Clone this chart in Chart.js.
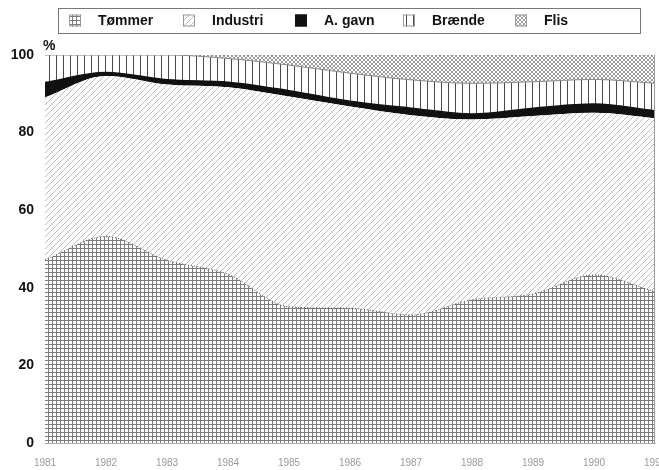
<!DOCTYPE html>
<html lang="da">
<head>
<meta charset="utf-8">
<title>Træforbrug 1981-1991</title>
<script src="https://cdn.jsdelivr.net/npm/chart.js@4.4.1/dist/chart.umd.min.js"></script>
<style>
  html, body { margin: 0; padding: 0; background: #fff; overflow: hidden; }
  #wrap { width: 659px; height: 470px; }
</style>
</head>
<body>
<div id="wrap"><canvas id="chart" width="659" height="470"></canvas></div>
<script>
(() => {
  "use strict";

  // Data (percent of total)
  const years = ["1981", "1982", "1983", "1984", "1985", "1986", "1987", "1988", "1989", "1990", "1991"];
  const tommer   = [47.2, 53.2, 47.1, 43.5, 35.1, 34.7, 33.0, 36.9, 38.4, 43.3, 39.0];
  const industri = [41.9, 41.4, 45.3, 48.2, 54.2, 52.0, 51.5, 46.5, 45.9, 41.8, 44.7];
  const agavn    = [3.8, 0.9, 1.2, 1.3, 1.5, 1.4, 1.8, 1.4, 2.0, 2.3, 1.9];
  const braende  = [7.1, 4.5, 6.4, 6.1, 6.6, 7.2, 7.3, 7.9, 6.8, 6.3, 7.1];
  const flis     = [0, 0, 0, 0.9, 2.6, 4.7, 6.4, 7.3, 6.9, 6.3, 7.3];
  const seriesNames = ["Tømmer", "Industri", "A. gavn", "Brænde", "Flis"];
  const yTicks = [0, 20, 40, 60, 80, 100];

  const FONT = '"Liberation Sans", Arial, Helvetica, sans-serif';
  const canvas = document.getElementById("chart");
  const ctx = canvas.getContext("2d");

  // Hatch fills, drawn into small tiles
  function pattern(w, h, draw) {
    const c = document.createElement("canvas");
    c.width = w; c.height = h;
    const g = c.getContext("2d");
    g.fillStyle = "#fff";
    g.fillRect(0, 0, w, h);
    draw(g);
    return ctx.createPattern(c, "repeat");
  }

  const fills = [
    pattern(4, 4, g => {            // grid
      g.fillStyle = "#7c7c7c";
      g.fillRect(0, 0, 4, 1);
      g.fillRect(0, 0, 1, 4);
    }),
    pattern(6, 6, g => {            // diagonal
      g.strokeStyle = "#bcbcbc"; g.lineWidth = 1;
      g.beginPath();
      g.moveTo(0, 6); g.lineTo(6, 0);
      g.moveTo(-1, 1); g.lineTo(1, -1);
      g.moveTo(5, 7); g.lineTo(7, 5);
      g.stroke();
    }),
    "#111",                         // solid
    pattern(7, 4, g => {            // vertical lines
      g.fillStyle = "#4a4a4a";
      g.fillRect(0, 0, 1, 4);
    }),
    pattern(4, 4, g => {            // fine cross hatch
      g.fillStyle = "#9c9c9c";
      [[0, 0], [1, 1], [2, 2], [3, 3], [3, 0], [2, 1], [1, 2], [0, 3]]
        .forEach(([x, y]) => g.fillRect(x, y, 1, 1));
    })
  ];
  const borders = [
    { color: "#555", width: 1, dash: [1, 2] },
    { color: "rgba(0,0,0,0)", width: 0, dash: [] },
    { color: "#111", width: 1.5, dash: [] },
    { color: "#888", width: 1, dash: [] },
    { color: "#777", width: 1, dash: [1, 2] }
  ];

  const values = [tommer, industri, agavn, braende, flis];
  const datasets = values.map((data, i) => ({
    label: seriesNames[i],
    data,
    backgroundColor: fills[i],
    borderColor: borders[i].color,
    borderWidth: borders[i].width,
    borderDash: borders[i].dash,
    fill: i === 0 ? "origin" : "-1",
    pointRadius: 0,
    pointHoverRadius: 0,
    cubicInterpolationMode: "monotone"
  }));

  // Boxed legend across the top, plus the "%" unit mark
  const legendBox = { x: 58.5, y: 8.5, w: 582, h: 25 };
  const legendX = [69, 183, 295, 403, 515];

  const frame = {
    id: "frame",
    afterDraw(chart) {
      const c = chart.ctx;
      c.save();
      c.strokeStyle = "#777";
      c.lineWidth = 1;
      c.strokeRect(legendBox.x, legendBox.y, legendBox.w, legendBox.h);

      c.font = `bold 14px ${FONT}`;
      c.textBaseline = "middle";
      c.textAlign = "left";
      chart.data.datasets.forEach((ds, i) => {
        const x = legendX[i], y = 14.5;
        c.fillStyle = ds.backgroundColor;
        c.fillRect(x, y, 12, 12);
        c.strokeStyle = i === 2 ? "#111" : "#999";
        c.strokeRect(x + 0.5, y + 0.5, 11, 11);
        c.fillStyle = "#111";
        c.fillText(ds.label, x + 29, 21);
      });

      c.fillText("%", 43, 46);

      const a = chart.chartArea;
      c.strokeStyle = "#999";
      c.beginPath();
      c.moveTo(a.right - 0.5, a.top);
      c.lineTo(a.right - 0.5, a.bottom);
      c.stroke();
      c.restore();
    }
  };

  new Chart(canvas, {
    type: "line",
    data: { labels: years, datasets },
    options: {
      responsive: false,
      animation: false,
      events: [],
      layout: { padding: { top: 55, right: 4, left: 0, bottom: 0 } },
      plugins: {
        legend: { display: false },
        tooltip: { enabled: false },
        filler: { propagate: false }
      },
      scales: {
        x: {
          grid: { display: false, drawTicks: false },
          border: { display: true, color: "#aaa" },
          ticks: {
            color: "#9a9a9a",
            font: { family: FONT, size: 10 },
            padding: 14,
            maxRotation: 0,
            autoSkip: false
          },
          afterFit(scale) {
            scale.height = 27;
            scale.paddingLeft = 0;
            scale.paddingRight = 0;
          }
        },
        y: {
          stacked: true,
          min: 0,
          max: 100,
          grid: { display: false, drawTicks: false },
          border: { display: true, color: "#888" },
          ticks: {
            color: "#111",
            font: { family: FONT, size: 14, weight: "bold" },
            padding: 11
          },
          afterBuildTicks(scale) {
            scale.ticks = yTicks.map(v => ({ value: v }));
          },
          afterFit(scale) {
            scale.width = 45;
          }
        }
      }
    },
    plugins: [frame]
  });
})();
</script>
</body>
</html>
